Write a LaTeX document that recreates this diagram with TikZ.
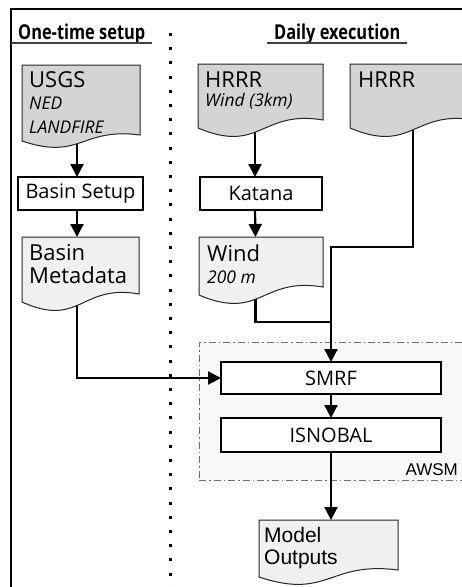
\documentclass[tikz,border=0pt]{standalone}
\usepackage{fontspec}
\setmainfont{Open Sans}
\newfontfamily\titlefont[FakeStretch=0.8]{Open Sans}
\newfontfamily\arialfont{Liberation Sans}
\usetikzlibrary{arrows.meta,calc}
\definecolor{docdark}{RGB}{212,212,212}
\definecolor{doclight}{RGB}{240,240,240}
\definecolor{regionfill}{RGB}{248,248,248}
\definecolor{regionline}{RGB}{110,110,110}
\tikzset{
  docbox/.style={rectangle, draw=none, inner sep=0pt, outer sep=0pt, anchor=north west},
  docline/.style={draw=black!85, line width=1pt},
  procbox/.style={rectangle, draw=black, line width=2pt, fill=white, inner sep=0pt, outer sep=0pt,
    font=\fontsize{20}{23}\selectfont},
  conn/.style={line width=2.2pt, draw=black},
  arr/.style={conn, -{Triangle[length=13pt,width=13pt]}},
  maintxt/.style={inner sep=0pt, anchor=base west, font=\fontsize{22}{25}\selectfont},
  subtxt/.style={inner sep=0pt, anchor=base west, font=\fontsize{17.5}{20}\selectfont\itshape},
  titletxt/.style={inner sep=0pt, anchor=base west, font=\titlefont\bfseries\fontsize{20.5}{23}\selectfont},
  modeltxt/.style={inner sep=0pt, anchor=base west, font=\arialfont\fontsize{21}{24}\selectfont},
}
\newcommand\wavedoc[3]{%
  \fill[#2] (#1.north west) -- (#1.north east) -- ([yshift=#3]#1.south east)
    .. controls ($($(#1.south west)!0.5!(#1.south east)$)+(0pt,2.3*#3)$)
    and ($($(#1.south west)!0.5!(#1.south east)$)+(0pt,-3.3*#3)$) .. (#1.south west) -- cycle;
  \draw[docline] (#1.north west) -- (#1.north east) -- ([yshift=#3]#1.south east)
    .. controls ($($(#1.south west)!0.5!(#1.south east)$)+(0pt,2.3*#3)$)
    and ($($(#1.south west)!0.5!(#1.south east)$)+(0pt,-3.3*#3)$) .. (#1.south west) -- cycle;
}
\begin{document}
\begin{tikzpicture}[x=1pt,y=-1pt]
\useasboundingbox (0,0) rectangle (462,587);
% outer frame
\coordinate (frameBL) at (11,600);
\coordinate (frameTL) at (11,9);
\coordinate (frameTR) at (480,9);
\draw[line width=2.4pt] (frameBL) -- (frameTL) -- (frameTR);
% titles
\node[titletxt] (t1) at (18,39) {One-time setup};
\node[titletxt] (t2) at (274,39) {Daily execution};
\coordinate (u1a) at (11,43); \coordinate (u1b) at (152,43);
\coordinate (u2a) at (267,43); \coordinate (u2b) at (407,43);
\draw[line width=1.3pt, black!75] (u1a) -- (u1b);
\draw[line width=1.3pt, black!75] (u2a) -- (u2b);
% dotted separator
\coordinate (sepT) at (170,33); \coordinate (sepB) at (170,600);
\draw[line width=3pt, dash pattern=on 3pt off 11.2pt] (sepT) -- (sepB);
% AWSM region
\node[rectangle, draw=regionline, fill=regionfill, line width=0.9pt, dash pattern=on 7pt off 3pt on 1.5pt off 3pt,
  minimum width=280pt, minimum height=138pt, anchor=north west, inner sep=0pt] (awsm) at (199,342) {};
\node[inner sep=0pt, anchor=base east, font=\arialfont\fontsize{17}{20}\selectfont] (awsmlbl) at (458,475) {AWSM};
% document placeholders
\node[docbox, minimum width=118pt, minimum height=76pt] (usgs) at (22,65) {};
\node[docbox, minimum width=117pt, minimum height=65pt] (meta) at (22,237) {};
\node[docbox, minimum width=125pt, minimum height=64pt] (hrrra) at (198,64) {};
\node[docbox, minimum width=125pt, minimum height=64pt] (hrrrb) at (350,64) {};
\node[docbox, minimum width=124pt, minimum height=58pt] (wind) at (199,237) {};
\node[docbox, minimum width=139pt, minimum height=57pt] (model) at (259,520) {};
% process boxes
\node[procbox, minimum width=125pt, minimum height=33pt] (setup) at (80.5,193.5) {Basin Setup};
\node[procbox, minimum width=122pt, minimum height=33pt] (katana) at (261,193.5) {Katana};
\node[procbox, minimum width=220pt, minimum height=32pt] (smrf) at (331,378) {SMRF};
\node[procbox, minimum width=220pt, minimum height=34pt] (isnobal) at (331,435) {ISNOBAL};
% connectors
\coordinate (bend) at (331,247);
\coordinate (join) at (331,322);
\draw[arr] ([xshift=-4pt]usgs.south) -- ([xshift=-3.5pt]setup.north);
\draw[arr] ([xshift=-3.5pt]setup.south) -- ([xshift=-3.5pt]meta.north);
\draw[arr] ([xshift=-3.5pt]meta.south) |- (smrf.west);
\draw[arr] ([xshift=-5.5pt]hrrra.south) -- ([xshift=-5.5pt]katana.north -| hrrra.south);
\draw[arr] ([xshift=-6pt]katana.south) -- ([xshift=-5.5pt]wind.north);
\draw[conn] ([xshift=-5.5pt]wind.south) |- (join);
\draw[arr] ([xshift=0.5pt]hrrrb.south) |- (bend) -- (smrf.north);
\draw[arr] (smrf.south) -- (isnobal.north);
\draw[arr] (isnobal.south) -- (isnobal.south |- model.north);
% document shapes
\wavedoc{usgs}{docdark}{6pt}
\wavedoc{meta}{doclight}{8pt}
\wavedoc{hrrra}{docdark}{8pt}
\wavedoc{hrrrb}{docdark}{8pt}
\wavedoc{wind}{doclight}{8pt}
\wavedoc{model}{doclight}{7pt}
% document texts
\node[maintxt] (usgsA) at (29,87) {USGS};
\node[subtxt] (usgsB) at (29,109) {NED};
\node[subtxt] (usgsC) at (29,133) {LANDFIRE};
\node[maintxt] (metaA) at (29,260) {Basin};
\node[maintxt] (metaB) at (29,283) {Metadata};
\node[maintxt] (hrrraA) at (205,87) {HRRR};
\node[subtxt] (hrrraB) at (205,106) {Wind (3km)};
\node[maintxt] (hrrrbA) at (358,87) {HRRR};
\node[maintxt] (windA) at (207,261) {Wind};
\node[subtxt] (windB) at (207,283) {200 m};
\node[modeltxt] (modelA) at (264,542) {Model};
\node[modeltxt] (modelB) at (264,564) {Outputs};
\end{tikzpicture}
\end{document}
